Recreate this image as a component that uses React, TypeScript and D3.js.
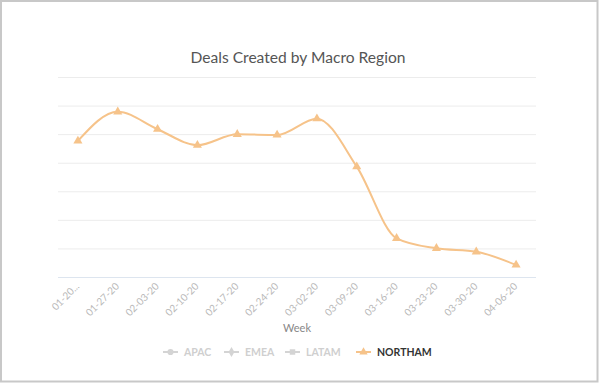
import React from "react";
import * as d3 from "d3";

const weeks = ["01-20-20", "01-27-20", "02-03-20", "02-10-20", "02-17-20", "02-24-20", "03-02-20", "03-09-20", "03-16-20", "03-23-20", "03-30-20", "04-06-20"];
const northam = [47.8, 58.0, 51.9, 46.3, 50.1, 49.9, 55.6, 38.8, 13.7, 10.2, 9.0, 4.4];
const yTicks = [0, 10, 20, 30, 40, 50, 60, 70];
const legendItems = ["APAC", "EMEA", "LATAM", "NORTHAM"];
const legendSymbols = ["circle", "diamond", "square", "triangle"];

const W = 599;
const H = 383;
const left = 58;
const right = 536;
const top = 77.5;
const bottom = 277.5;
const LINE = "#f6c38a";

export default function App() {
  const x = d3.scaleBand<string>().domain(weeks).range([left, right]);
  const y = d3.scaleLinear().domain([0, 70]).range([bottom, top]);
  const cx = (w: string) => (x(w) as number) + x.bandwidth() / 2;
  const line = d3
    .line<number>()
    .x((_, i) => cx(weeks[i]))
    .y((d) => y(d))
    .curve(d3.curveMonotoneX);
  const tri = d3.symbol(d3.symbolTriangle, 36)();
  const symMap: Record<string, d3.SymbolType> = {
    circle: d3.symbolCircle,
    diamond: d3.symbolDiamond,
    square: d3.symbolSquare,
    triangle: d3.symbolTriangle,
  };
  const legendX = [168, 229, 290, 361];
  const font = "Lato, 'Open Sans', sans-serif";
  return (
    <svg width={W} height={H} style={{ position: "absolute", left: 0, top: 0, background: "#fff" }}>
      <rect x={1} y={1} width={596.5} height={380.5} fill="#fff" stroke="#c8c8c8" strokeWidth={2} />
      <text x={298} y={63} textAnchor="middle" fontFamily={font} fontSize={15.6} fill="#555">
        Deals Created by Macro Region
      </text>
      {yTicks.map((t) => (
        <line
          key={t}
          x1={left}
          x2={right}
          y1={y(t)}
          y2={y(t)}
          stroke={t === 0 ? "#dde5ef" : "#ececec"}
          strokeWidth={1}
        />
      ))}
      <path d={line(northam) || ""} fill="none" stroke={LINE} strokeWidth={2} />
      {northam.map((v, i) => (
        <path key={i} d={tri || ""} transform={`translate(${cx(weeks[i])},${y(v)})`} fill={LINE} />
      ))}
      {weeks.map((w, i) => (
        <text
          key={w}
          transform={`translate(${cx(w) + 2},${287}) rotate(-45)`}
          textAnchor="end"
          fontFamily={font}
          fontSize={10}
          fill="#b8b8b8"
        >
          {i === 0 ? "01-20..." : w}
        </text>
      ))}
      <text x={297} y={332} textAnchor="middle" fontFamily={font} fontSize={11} fill="#888">
        Week
      </text>
      {legendItems.map((name, i) => {
        const active = name === "NORTHAM";
        const col = active ? LINE : "#d4d4d4";
        const lx = legendX[i];
        return (
          <g key={name}>
            <line x1={lx - 5} x2={lx + 10} y1={352} y2={352} stroke={col} strokeWidth={2} />
            <path
              d={d3.symbol(symMap[legendSymbols[i]], 30)() || ""}
              transform={`translate(${lx + 2.5},352)`}
              fill={col}
            />
            <text
              x={lx + 16}
              y={356}
              fontFamily={font}
              fontWeight="bold"
              fontSize={10.5}
              fill={active ? "#333" : "#cfcfcf"}
            >
              {name}
            </text>
          </g>
        );
      })}
    </svg>
  );
}
